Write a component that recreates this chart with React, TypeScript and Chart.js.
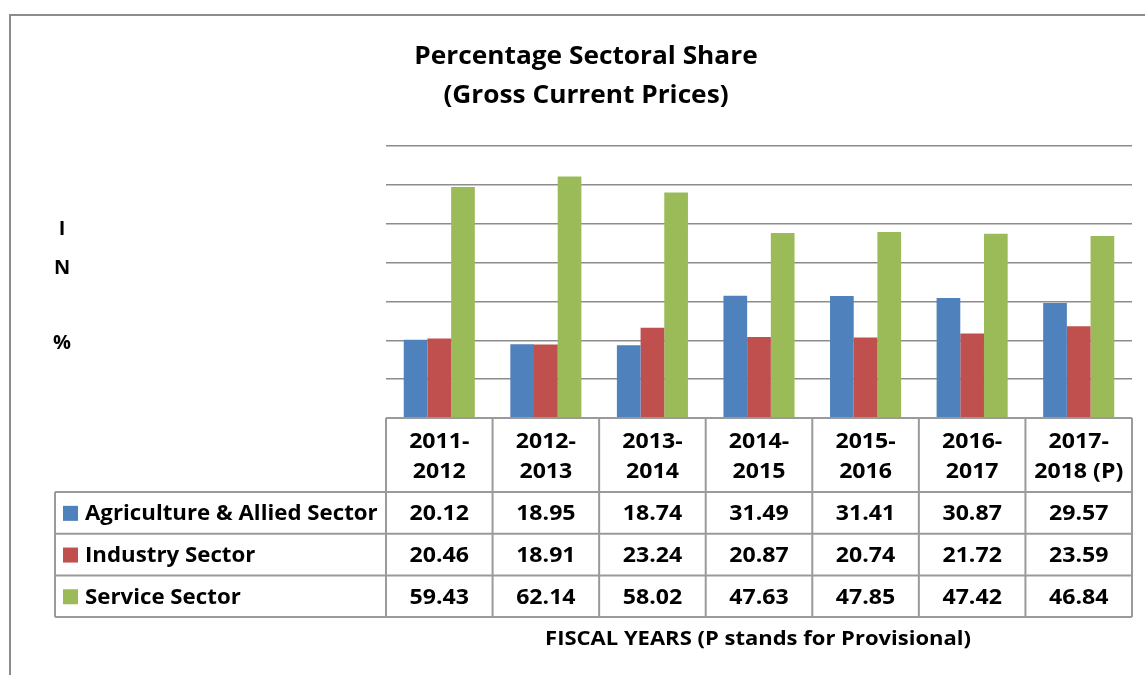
import React, { useEffect, useRef } from "react";
import { Chart, registerables } from "chart.js";

Chart.register(...registerables);

const categories: string[][] = [
  ["2011-", "2012"],
  ["2012-", "2013"],
  ["2013-", "2014"],
  ["2014-", "2015"],
  ["2015-", "2016"],
  ["2016-", "2017"],
  ["2017-", "2018 (P)"],
];
const seriesNames = ["Agriculture & Allied Sector", "Industry Sector", "Service Sector"];
const agriculture = [20.12, 18.95, 18.74, 31.49, 31.41, 30.87, 29.57];
const industry = [20.46, 18.91, 23.24, 20.87, 20.74, 21.72, 23.59];
const service = [59.43, 62.14, 58.02, 47.63, 47.85, 47.42, 46.84];
const seriesColors = ["#4F81BD", "#C0504D", "#9BBB59"];
const yMin = 0;
const yMax = 70;
const yStep = 10;
const titleLines = ["Percentage Sectoral Share", "(Gross Current Prices)"];
const yLabelLetters = ["I", "N", "%"];
const xTitle = "FISCAL YEARS (P stands for Provisional)";

const FONT = "'Open Sans', sans-serif";

function drawText(
  ctx: CanvasRenderingContext2D,
  text: string,
  x: number,
  y: number,
  align: CanvasTextAlign,
  sx: number
) {
  ctx.save();
  ctx.translate(x, y);
  ctx.scale(sx, 1);
  ctx.textAlign = align;
  ctx.fillText(text, 0, 0);
  ctx.restore();
}

const tablePlugin = {
  id: "tablePlugin",
  afterDraw(chart: any) {
    const ctx = chart.ctx as CanvasRenderingContext2D;
    const ca = chart.chartArea;
    const n = categories.length;
    const colW = (ca.right - ca.left) / n;
    const seriesData = [agriculture, industry, service];

    ctx.save();
    // outer chart border
    ctx.strokeStyle = "#8c8c8c";
    ctx.lineWidth = 2;
    ctx.beginPath();
    ctx.moveTo(10, 700);
    ctx.lineTo(10, 15);
    ctx.lineTo(1200, 15);
    ctx.stroke();

    // title
    ctx.fillStyle = "#000";
    ctx.textBaseline = "middle";
    ctx.font = `bold 25px ${FONT}`;
    drawText(ctx, titleLines[0], 586, 57, "center", 1.05);
    drawText(ctx, titleLines[1], 586, 96, "center", 1.05);

    // y label letters
    ctx.font = `bold 19px ${FONT}`;
    const letterY = [230, 269, 344];
    yLabelLetters.forEach((l, i) => drawText(ctx, l, 62, letterY[i], "center", 1.05));

    // table geometry
    const headTop = ca.bottom;
    const headBottom = headTop + 74;
    const rowH = 41.7;
    const rowsBottom = headBottom + rowH * 3;
    const leftX = 55;

    ctx.strokeStyle = "#9a9a9a";
    ctx.lineWidth = 2;
    ctx.beginPath();
    ctx.moveTo(ca.left, headTop);
    ctx.lineTo(ca.right, headTop);
    for (let r = 0; r <= 3; r++) {
      const y = headBottom + rowH * r;
      ctx.moveTo(leftX, y);
      ctx.lineTo(ca.right, y);
    }
    for (let c = 0; c <= n; c++) {
      const x = ca.left + colW * c;
      ctx.moveTo(x, headTop);
      ctx.lineTo(x, rowsBottom);
    }
    ctx.moveTo(leftX, headBottom);
    ctx.lineTo(leftX, rowsBottom);
    ctx.stroke();

    // header text
    ctx.fillStyle = "#000";
    ctx.font = `bold 21px ${FONT}`;
    const xs = chart.scales.x;
    categories.forEach((lines, i) => {
      const cx = xs.getPixelForValue(i);
      lines.forEach((ln, j) => drawText(ctx, ln, cx, headTop + 24 + j * 30, "center", 1.1));
    });

    // rows
    seriesNames.forEach((name, r) => {
      const yc = headBottom + rowH * r + rowH / 2 + 1.5;
      ctx.fillStyle = seriesColors[r];
      ctx.fillRect(63, yc - 8.5, 15, 15);
      ctx.fillStyle = "#000";
      drawText(ctx, name, 85, yc, "left", 1.06);
      seriesData[r].forEach((v, i) => {
        drawText(ctx, v.toFixed(2), xs.getPixelForValue(i), yc, "center", 1.1);
      });
    });

    // x title
    ctx.font = `bold 20px ${FONT}`;
    drawText(ctx, xTitle, 758, 639, "center", 1.1);
    ctx.restore();
  },
};

export default function App() {
  const ref = useRef<HTMLCanvasElement>(null);
  useEffect(() => {
    if (!ref.current) return;
    const chart = new Chart(ref.current, {
      type: "bar",
      data: {
        labels: categories,
        datasets: [
          { label: seriesNames[0], data: agriculture, backgroundColor: seriesColors[0] },
          { label: seriesNames[1], data: industry, backgroundColor: seriesColors[1] },
          { label: seriesNames[2], data: service, backgroundColor: seriesColors[2] },
        ],
      },
      options: {
        animation: false,
        responsive: false,
        maintainAspectRatio: false,
        layout: { padding: { left: 386, right: 13, top: 146, bottom: 257 } },
        datasets: { bar: { categoryPercentage: 0.667, barPercentage: 1.0 } },
        plugins: { legend: { display: false }, tooltip: { enabled: false }, title: { display: false } },
        scales: {
          x: { display: false },
          y: {
            display: true,
            min: yMin,
            max: yMax,
            ticks: { display: false, stepSize: yStep },
            grid: { color: "#8c8c8c", lineWidth: 1.5, drawTicks: false },
            border: { display: false },
          },
        },
      },
      plugins: [tablePlugin],
    });
    return () => chart.destroy();
  }, []);
  return (
    <div style={{ position: "fixed", left: 0, top: 0, width: 1145, height: 675, background: "#fff" }}>
      <canvas ref={ref} width={1145} height={675} style={{ display: "block" }} />
    </div>
  );
}
